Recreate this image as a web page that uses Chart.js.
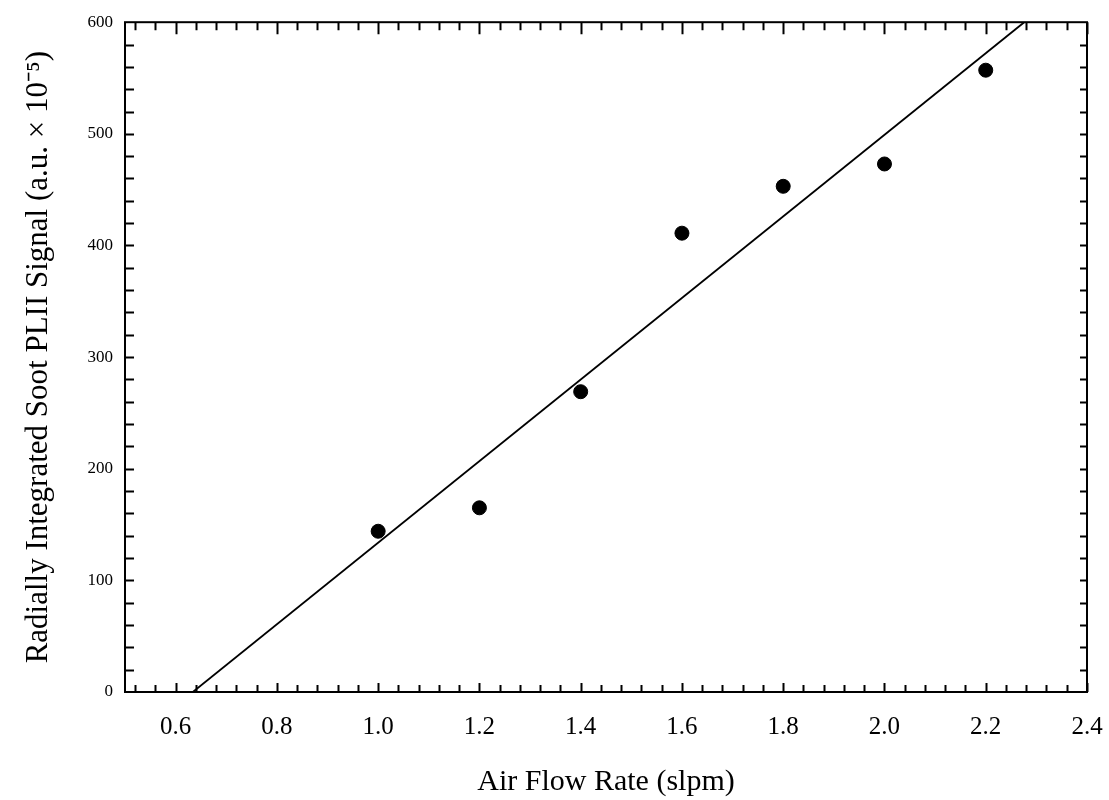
<!DOCTYPE html>
<html lang="en">
<head>
    <meta charset="UTF-8">
    <title>Soot PLII vs air flow</title>
    <script src="https://cdn.jsdelivr.net/npm/chart.js@4.4.1/dist/chart.umd.min.js"></script>
    <style>
        body { margin: 0; background: #fff; }
    </style>
</head>
<body>
<canvas id="plii" width="1109" height="800"></canvas>

<script type="text/javascript">
    // measured points
    var airFlow = [1.0, 1.2, 1.4, 1.6, 1.8, 2.0, 2.2];
    var pliiSignal = [144, 165, 269, 411, 453, 473, 557];

    // straight fit line, end points
    var fitX = [0.634, 2.276];
    var fitY = [0, 600];

    var xTicks = [0.6, 0.8, 1.0, 1.2, 1.4, 1.6, 1.8, 2.0, 2.2, 2.4];
    var yTicks = [0, 100, 200, 300, 400, 500, 600];

    var serif = "'Liberation Serif', 'Times New Roman', serif";

    // box around the plot with inward ticks on all four sides
    var frameTicks = {
        id: 'frameTicks',
        afterDraw: function (chart) {
            var ctx = chart.ctx;
            var a = chart.chartArea;
            var xs = chart.scales.x, ys = chart.scales.y;
            ctx.save();
            ctx.strokeStyle = '#000';
            ctx.lineWidth = 2;
            ctx.strokeRect(a.left, a.top, a.right - a.left, a.bottom - a.top);
            ctx.beginPath();
            for (var i = 0; i <= 47; i++) {
                var v = 0.52 + i * 0.04;
                if (v > xs.max + 1e-9) break;
                var px = Math.round(xs.getPixelForValue(v)) + 0.5;
                var major = Math.abs(v * 5 - Math.round(v * 5)) < 1e-6;
                var top = major ? 12 : 8, bot = major ? 9 : 7;
                ctx.moveTo(px, a.top); ctx.lineTo(px, a.top + top);
                ctx.moveTo(px, a.bottom); ctx.lineTo(px, a.bottom - bot);
            }
            for (var j = 20; j < 600; j += 20) {
                var py = Math.round(ys.getPixelForValue(j)) + 0.5;
                ctx.moveTo(a.left, py); ctx.lineTo(a.left + 9, py);
                ctx.moveTo(a.right, py); ctx.lineTo(a.right - 7, py);
            }
            ctx.stroke();
            ctx.restore();
        }
    };

    var ctx = document.getElementById('plii');
    new Chart(ctx, {
        type: 'scatter',
        data: {
            datasets: [{
                label: 'PLII signal',
                data: airFlow.map(function (x, i) { return {x: x, y: pliiSignal[i]}; }),
                backgroundColor: '#000',
                borderColor: '#000',
                pointRadius: 7,
                pointHoverRadius: 7
            }, {
                type: 'line',
                label: 'fit',
                data: fitX.map(function (x, i) { return {x: x, y: fitY[i]}; }),
                borderColor: '#000',
                borderWidth: 1.8,
                pointRadius: 0,
                fill: false
            }]
        },
        options: {
            responsive: false,
            animation: false,
            clip: true,
            layout: {padding: {top: 20, right: 22, left: 0, bottom: 0}},
            plugins: {
                legend: {display: false},
                tooltip: {enabled: false}
            },
            scales: {
                x: {
                    type: 'linear',
                    min: 0.5,
                    max: 2.4,
                    afterBuildTicks: function (s) {
                        s.ticks = xTicks.map(function (v) { return {value: v}; });
                    },
                    afterFit: function (s) {
                        s.height = 108;
                        s.paddingLeft = 0;
                        s.paddingRight = 0;
                    },
                    grid: {display: false, drawTicks: false},
                    border: {display: false},
                    ticks: {
                        color: '#000',
                        padding: 20,
                        maxRotation: 0,
                        font: {family: serif, size: 25},
                        callback: function (v) { return Number(v).toFixed(1); }
                    },
                    title: {
                        display: true,
                        text: 'Air Flow Rate (slpm)',
                        color: '#000',
                        padding: {top: 22, bottom: 0},
                        font: {family: serif, size: 30}
                    }
                },
                y: {
                    min: 0,
                    max: 600,
                    afterBuildTicks: function (s) {
                        s.ticks = yTicks.map(function (v) { return {value: v}; });
                    },
                    afterFit: function (s) { s.width = 125; },
                    grid: {display: false, drawTicks: false},
                    border: {display: false},
                    ticks: {
                        color: '#000',
                        padding: 12,
                        font: {family: serif, size: 17}
                    },
                    title: {
                        display: true,
                        text: 'Radially Integrated Soot PLII Signal (a.u. \u00d7 10\u207b\u2075)',
                        color: '#000',
                        padding: {top: 20, bottom: 0},
                        font: {family: serif, size: 31}
                    }
                }
            }
        },
        plugins: [frameTicks]
    });
</script>
</body>
</html>
